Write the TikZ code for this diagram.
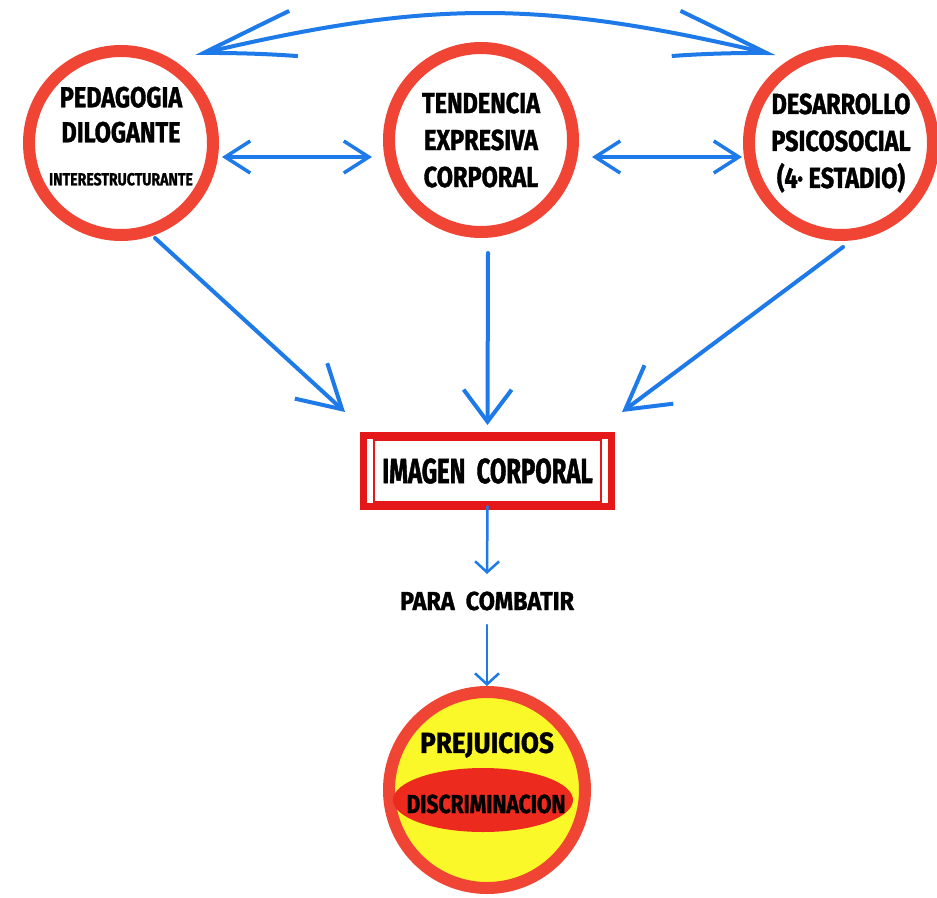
\documentclass[tikz,border=0pt]{standalone}
\usepackage{fontspec}
\newfontfamily\hand{Fira Sans}[FakeStretch=0.81,FakeBold=1.2]
\newfontfamily\handN{Fira Sans}[FakeStretch=0.68,FakeBold=1.2]
\newfontfamily\handW{Fira Sans}[FakeStretch=0.9,FakeBold=1.2]
\usetikzlibrary{arrows.meta,calc,shapes.geometric,bending}
\definecolor{ablue}{RGB}{30,122,232}
\definecolor{ringred}{RGB}{240,68,52}
\definecolor{stampred}{RGB}{228,24,24}
\definecolor{ballyellow}{RGB}{250,248,40}
\definecolor{ellred}{RGB}{236,42,30}
\begin{document}
\begin{tikzpicture}[x=1pt,y=-1pt,
  ringnode/.style={circle,draw=ringred,line width=12pt,minimum size=184pt,inner sep=0pt,align=center,text=black},
  bigtxt/.style={font=\hand\bfseries\fontsize{29}{37}\selectfont},
  barrow/.style={draw=ablue,line width=4pt,line cap=round,-{Straight Barb[length=42pt,width=48pt,line width=4pt]}},
  vbarrow/.style={draw=ablue,line width=4pt,line cap=round,-{Straight Barb[length=32pt,width=48pt,line width=4pt]}},
  dbl/.style={draw=ablue,line width=3.5pt,line cap=round,{Straight Barb[length=25pt,width=32pt,line width=3.5pt]}-{Straight Barb[length=25pt,width=32pt,line width=3.5pt]}},
  smallarrow/.style={draw=ablue,line width=2.5pt,line cap=round,-{Straight Barb[length=11pt,width=24pt,line width=2.5pt]}},
  arcarrow/.style={draw=ablue,line width=4pt,line cap=round,{Straight Barb[length=100pt,width=46pt,line width=4pt,bend]}-{Straight Barb[length=100pt,width=46pt,line width=4pt,bend]}}
]
\useasboundingbox[fill=white] (0,0) rectangle (937,897);

% circles
\node[ringnode,font=\hand\bfseries\fontsize{29}{35}\selectfont] (ped) at (121,143)
  {PEDAGOGIA\\DILOGANTE\\[8pt]{\fontsize{17.4}{20}\selectfont INTERESTRUCTURANTE}\rule[-14pt]{0pt}{0pt}};
\node[ringnode,bigtxt] (ten) at (481,140) {TENDENCIA\\EXPRESIVA\\CORPORAL};
\node[ringnode,bigtxt] (des) at (841,143) {DESARROLLO\\PSICOSOCIAL\\(4· ESTADIO)};

% box
\node[draw=stampred,line width=7pt,minimum width=248pt,minimum height=71pt,
      font=\handN\bfseries\fontsize{35}{40}\selectfont] (img) at (487.5,471) {IMAGEN\ \ CORPORAL};
\draw[stampred,line width=2pt] ($(img.north west)+(14,8)$) rectangle ($(img.south east)+(-14,-8)$);

% para combatir
\node[font=\handW\bfseries\fontsize{26}{30}\selectfont] (para) at (487,601) {PARA\ \ COMBATIR};

% bottom ball
\node[circle,draw=ringred,fill=ballyellow,line width=12pt,minimum size=196pt] (pre) at (487,790) {};
\node[ellipse,fill=ellred,minimum width=180pt,minimum height=64pt,inner sep=0pt] (ell) at (483,800) {};
\node[font=\hand\bfseries\fontsize{26}{30}\selectfont] (disc) at (486,804) {DISCRIMINACION};
\node[font=\handW\bfseries\fontsize{29}{34}\selectfont] (prej) at (487,745) {PREJUICIOS};

% connectors
\draw[arcarrow] ($(ped)+(74,-88)$) .. controls (430,-1) and (540,-1) .. ($(des)+(-66,-88)$);
\draw[dbl] ($(ped.east)+(3,14)$) -- ($(ten.west)+(-11,17)$);
\draw[dbl] ($(ten.east)+(13,17)$) -- ($(des.west)+(-1,14)$);
\draw[barrow] ($(ped.south)+(34,-3)$) -- ($(img.north west)+(-15,-20)$);
\draw[vbarrow] ($(ten.south)+(7,15)$) -- ($(img.north)+(0,-7)$);
\draw[barrow] ($(des.south)+(2,6)$) -- ($(img.north east)+(7,-20)$);
\draw[smallarrow] ($(img.south)+(0,-4)$) -- ($(para)+(0,-27)$);
\draw[smallarrow] ($(para)+(0,24)$) -- (pre.north);
\end{tikzpicture}
\end{document}
